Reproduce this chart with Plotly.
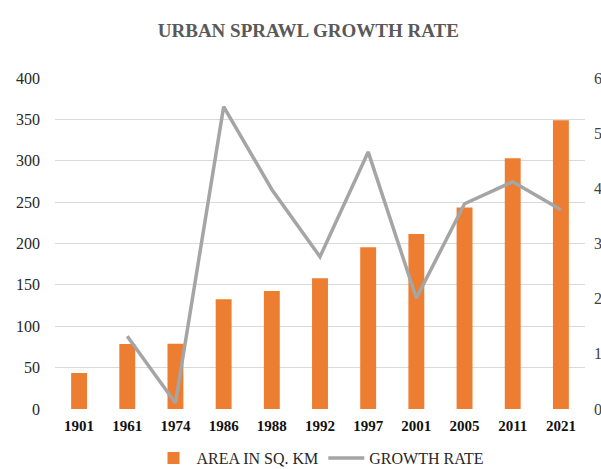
import plotly.graph_objects as go

years = ["1901", "1961", "1974", "1986", "1988", "1992", "1997", "2001", "2005", "2011", "2021"]
area_sq_km = [43.5, 78.5, 79, 132.5, 142.5, 158, 195.5, 211.5, 243.5, 303, 349]
growth_years = ["1961", "1974", "1986", "1988", "1992", "1997", "2001", "2005", "2011", "2021"]
growth_rate = [1.32, 0.11, 5.48, 3.98, 2.76, 4.66, 2.01, 3.72, 4.12, 3.61]
left_ticks = [0, 50, 100, 150, 200, 250, 300, 350, 400]
right_ticks = [0, 1, 2, 3, 4, 5, 6]

serif = "Liberation Serif, Times New Roman, serif"

fig = go.Figure()
fig.add_trace(go.Bar(
    x=years, y=area_sq_km, name="AREA IN SQ. KM",
    marker=dict(color="#ED7D31", line=dict(width=0)),
    yaxis="y",
))
fig.add_trace(go.Scatter(
    x=growth_years, y=growth_rate, name="GROWTH RATE",
    mode="lines", line=dict(color="#A5A5A5", width=3.5),
    yaxis="y2",
))

fig.update_layout(
    width=601, height=469,
    margin=dict(l=55, r=16, t=78, b=60, autoexpand=False),
    paper_bgcolor="white", plot_bgcolor="white",
    bargap=0.67,
    title=dict(text="<b>URBAN SPRAWL GROWTH RATE</b>", x=0.513, xanchor="center",
               y=0.936, yanchor="middle",
               font=dict(family=serif, size=19, color="#595959")),
    xaxis=dict(type="category", categoryorder="array", categoryarray=years,
               showgrid=False, showline=False, ticks="",
               tickfont=dict(family=serif, size=15, color="#111111", weight="bold"),
               ticklabelstandoff=6),
    yaxis=dict(range=[0, 400], tickvals=left_ticks, showgrid=True,
               gridcolor="#D9D9D9", gridwidth=1.3, zeroline=False, showline=False,
               ticks="", tickfont=dict(family=serif, size=16, color="#262626"),
               ticklabelstandoff=14),
    yaxis2=dict(range=[0, 6], tickvals=right_ticks, overlaying="y", side="right",
                showgrid=False, zeroline=False, showline=False, ticks="",
                tickfont=dict(family=serif, size=16, color="#404040"),
                ticklabelstandoff=8),
    legend=dict(orientation="h", x=0.5, xanchor="center", y=-0.097, yanchor="top",
                font=dict(family=serif, size=16, color="#262626"),
                itemwidth=36, traceorder="normal"),
    showlegend=True,
)

fig.write_html("out.html", config={"displayModeBar": False},
               post_script="document.body.style.margin='0';")
